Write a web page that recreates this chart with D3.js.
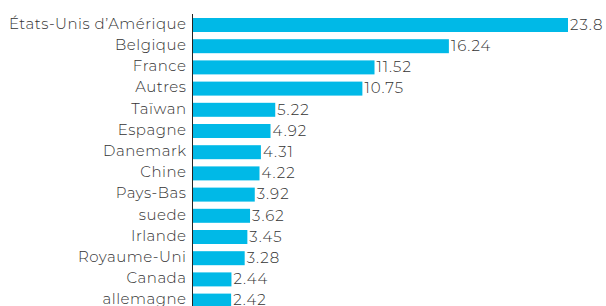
<!DOCTYPE html>
<html>
<head>
<meta charset="utf-8">
<script src="https://cdn.jsdelivr.net/npm/d3@7"></script>
<style>
  body { margin: 0; background: #fff; }
</style>
</head>
<body>
<svg id="chart" width="606" height="306"></svg>
<script>
var countries = ["États-Unis d’Amérique", "Belgique", "France", "Autres", "Taïwan", "Espagne",
  "Danemark", "Chine", "Pays-Bas", "suede", "Irlande", "Royaume-Uni", "Canada", "allemagne"];
var values = [23.8, 16.24, 11.52, 10.75, 5.22, 4.92, 4.31, 4.22, 3.92, 3.62, 3.45, 3.28, 2.44, 2.42];
var data = countries.map(function (c, i) { return {name: c, value: values[i]}; });

var svg = d3.select("#chart");
var left = 193;
var font = "Montserrat, 'Open Sans', sans-serif";

var xScale = d3.scaleLinear()
  .domain([0, 23.8])
  .range([left, 568]);

var yScale = d3.scaleBand()
  .domain(countries)
  .range([14.4, 14.4 + 21.2 * countries.length])
  .paddingInner(0.34)
  .paddingOuter(0.17);

// bars
svg.append("g")
  .selectAll("rect")
  .data(data)
  .enter()
  .append("rect")
  .attr("x", xScale(0))
  .attr("y", function (d) { return yScale(d.name); })
  .attr("width", function (d) { return xScale(d.value) - xScale(0); })
  .attr("height", yScale.bandwidth())
  .style("fill", "#00b9e7");

// value labels
svg.append("g")
  .selectAll("text")
  .data(data)
  .enter()
  .append("text")
  .attr("x", function (d) { return xScale(d.value) + 2; })
  .attr("y", function (d) { return yScale(d.name) + yScale.bandwidth() / 2; })
  .attr("dy", "0.32em")
  .style("font-family", font)
  .style("font-weight", 300)
  .style("font-size", "15px")
  .style("letter-spacing", "1px")
  .style("fill", "#333")
  .text(function (d) { return d.value; });

// y axis
var yAxis = svg.append("g")
  .attr("transform", "translate(" + (left - 0.5) + ",0)")
  .call(d3.axisLeft(yScale).tickSize(0).tickPadding(6));

yAxis.select(".domain")
  .attr("d", "M0,14V306")
  .style("stroke", "#222");

yAxis.selectAll("text")
  .attr("dy", "0.25em")
  .style("font-family", font)
  .style("font-weight", 300)
  .style("font-size", "15px")
  .style("letter-spacing", "0.5px")
  .style("fill", "#333");
</script>
</body>
</html>
